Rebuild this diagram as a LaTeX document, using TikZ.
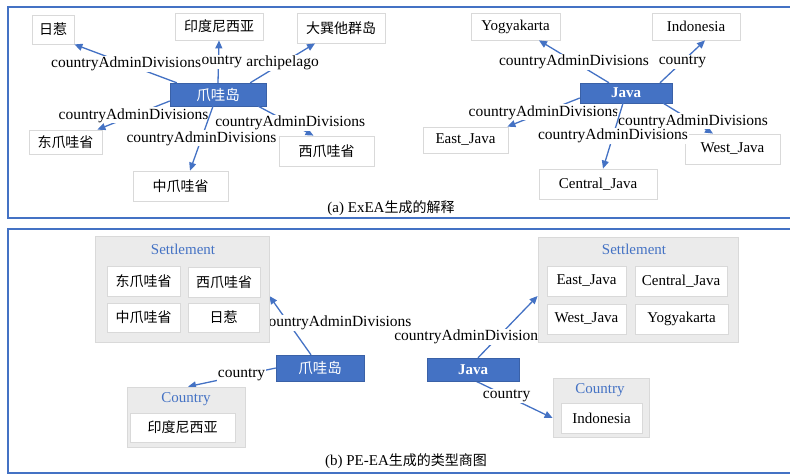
\documentclass[tikz,border=0pt]{standalone}
\usepackage{fontspec}
\setmainfont{Liberation Serif}
\newfontfamily\cjk{Noto Sans CJK SC}
\usetikzlibrary{arrows.meta}

\definecolor{linkblue}{HTML}{4472C4}
\definecolor{boxgray}{HTML}{D9D9D9}
\definecolor{groupgray}{HTML}{EBEBEB}
\pgfdeclarelayer{back}
\pgfsetlayers{back,main}

\tikzset{
  leaf/.style={draw=boxgray, fill=white, line width=.8pt, inner sep=0pt, font=\fontsize{15}{18}\selectfont},
  cnleaf/.style={leaf, font=\cjk\fontsize{14}{17}\selectfont},
  hub/.style={draw=linkblue!85!black, fill=linkblue, text=white, inner sep=0pt, font=\bfseries\fontsize{15}{18}\selectfont},
  cnhub/.style={hub, font=\cjk\fontsize{14.5}{17}\selectfont},
  group/.style={draw=boxgray, fill=groupgray, line width=.8pt, inner sep=0pt},
  grouptitle/.style={text=linkblue, font=\fontsize{15}{18}\selectfont},
  link/.style={draw=linkblue, line width=1.3pt, -{Triangle[length=8pt,width=7pt]}},
  rel/.style={fill=white, inner sep=1pt, font=\fontsize{15.5}{18}\selectfont},
  frame/.style={draw=linkblue, line width=1.8pt},
  caption/.style={font=\fontsize{15}{18}\selectfont}
}

\begin{document}
\begin{tikzpicture}[x=1pt,y=-1pt]
  \clip (0,0) rectangle (790,475);

  % frames
  \draw[frame] (800,7) -| (8,218) -- (800,218);
  \draw[frame] (800,229) -| (8,473) -- (800,473);

  % (a) left: 爪哇岛
  \node[cnhub, minimum width=96pt, minimum height=23pt] (zwd) at (218,94.5) {爪哇岛};
  \node[cnleaf, minimum width=42pt, minimum height=29pt] (ri) at (53,29.5) {日惹};
  \node[cnleaf, minimum width=88pt, minimum height=27pt] (yin) at (219,26.5) {印度尼西亚};
  \node[cnleaf, minimum width=88pt, minimum height=30pt] (dxt) at (341,28) {大巽他群岛};
  \node[cnleaf, minimum width=73pt, minimum height=24pt] (dong) at (65.5,142) {东爪哇省};
  \node[cnleaf, minimum width=95pt, minimum height=30pt] (zhong) at (180.5,186) {中爪哇省};
  \node[cnleaf, minimum width=95pt, minimum height=30pt] (xi) at (326.5,151) {西爪哇省};

  \draw[link] (zwd.north) -- node[rel, pos=.5] {country} (yin.south);
  \draw[link] ([xshift=7pt]zwd.north west) -- node[rel, pos=.495] {countryAdminDivisions} (ri.south east);
  \draw[link] ([xshift=-16pt]zwd.north east) -- node[rel, pos=.5] {archipelago} ([xshift=-26pt]dxt.south);
  \draw[link] ([yshift=-6.5pt]zwd.west) -- node[rel, pos=.5] {countryAdminDivisions} ([xshift=-5pt]dong.north east);
  \draw[link] ([xshift=-8pt]zwd.south east) -- node[rel, pos=.58] {countryAdminDivisions} ([xshift=-13pt]xi.north);
  \draw[link] ([xshift=-5pt]zwd.south) -- node[rel, pos=.5] {countryAdminDivisions} ([xshift=9.5pt]zhong.north);

  % (a) right: Java
  \node[hub, minimum width=92pt, minimum height=20pt] (java) at (626,93) {Java};
  \node[leaf, minimum width=89pt, minimum height=27pt] (yog) at (515.5,26.5) {Yogyakarta};
  \node[leaf, minimum width=88pt, minimum height=27pt] (indo) at (696,26.5) {Indonesia};
  \node[leaf, minimum width=85pt, minimum height=26pt] (ej) at (465.5,140) {East\_Java};
  \node[leaf, minimum width=118pt, minimum height=30pt] (cj) at (598,184) {Central\_Java};
  \node[leaf, minimum width=95pt, minimum height=30pt] (wj) at (732.5,149) {West\_Java};

  \draw[link] ([xshift=-17pt]java.north) -- node[rel, pos=.5] {countryAdminDivisions} ([xshift=23.5pt]yog.south);
  \draw[link] ([xshift=34pt]java.north) -- node[rel, pos=.5] {country} ([xshift=9pt]indo.south);
  \draw[link] ([yshift=-5pt]java.west) -- node[rel, pos=.5] {countryAdminDivisions} ([xshift=-1pt]ej.north east);
  \draw[link] ([xshift=-9pt]java.south east) -- node[rel, pos=.6] {countryAdminDivisions} ([xshift=-19.5pt]wj.north);
  \draw[link] ([xshift=-3pt]java.south) -- node[rel, pos=.5] {countryAdminDivisions} ([xshift=5pt]cj.north);

  \node[caption] (capa) at (391,208) {(a) ExEA{\cjk\fontsize{14}{17}\selectfont 生成的解释}};

  % (b) left
  \node[group, minimum width=174pt, minimum height=106pt] (sgL) at (182,289) {};
  \node[grouptitle] (sgLt) at (183,249) {Settlement};
  \node[cnleaf, minimum width=73pt, minimum height=30pt] (bdong) at (143.5,281) {东爪哇省};
  \node[cnleaf, minimum width=72pt, minimum height=30pt] (bxi) at (224,282) {西爪哇省};
  \node[cnleaf, minimum width=73pt, minimum height=29pt] (bzhong) at (143.5,317.5) {中爪哇省};
  \node[cnleaf, minimum width=71pt, minimum height=29pt] (bri) at (223.5,317.5) {日惹};
  \node[group, minimum width=118pt, minimum height=60pt] (cgL) at (186,417) {};
  \node[grouptitle] (cgLt) at (186,399) {Country};
  \node[cnleaf, minimum width=105pt, minimum height=29pt] (byin) at (182.5,427.5) {印度尼西亚};
  \node[cnhub, minimum width=88pt, minimum height=26pt] (bzwd) at (320,368) {爪哇岛};

  % (b) right
  \node[group, minimum width=200pt, minimum height=105pt] (sgR) at (638,289.5) {};
  \node[grouptitle] (sgRt) at (634,249) {Settlement};
  \node[leaf, minimum width=79pt, minimum height=30pt] (bej) at (586.5,281) {East\_Java};
  \node[leaf, minimum width=92pt, minimum height=30pt] (bcj) at (681,281) {Central\_Java};
  \node[leaf, minimum width=79pt, minimum height=30pt] (bwj) at (586.5,319) {West\_Java};
  \node[leaf, minimum width=93pt, minimum height=30pt] (byog) at (681.5,319) {Yogyakarta};
  \node[group, minimum width=96pt, minimum height=59pt] (cgR) at (601,407.5) {};
  \node[grouptitle] (cgRt) at (600,390) {Country};
  \node[leaf, minimum width=81pt, minimum height=30pt] (bindo) at (601.5,418) {Indonesia};
  \node[hub, minimum width=92pt, minimum height=23pt] (bjava) at (473,369.5) {Java};

  \begin{pgfonlayer}{back}
    \draw[link] ([xshift=-9pt]bzwd.north) -- node[rel, pos=.54, xshift=48pt] {countryAdminDivisions} ([yshift=-7pt]sgL.east);
    \draw[link] (bzwd.west) -- node[rel, pos=.39] {country} ([xshift=2pt]cgL.north);
    \draw[link] ([xshift=5pt]bjava.north) -- node[rel, pos=.34, xshift=-29pt] {countryAdminDivisions} ([yshift=-6.5pt]sgR.west);
    \draw[link] ([xshift=3pt]bjava.south) -- node[rel, pos=.4] {country} ([yshift=-10.5pt]cgR.west);
  \end{pgfonlayer}

  \node[caption] (capb) at (406,461) {(b) PE-EA{\cjk\fontsize{14}{17}\selectfont 生成的类型商图}};
\end{tikzpicture}
\end{document}
